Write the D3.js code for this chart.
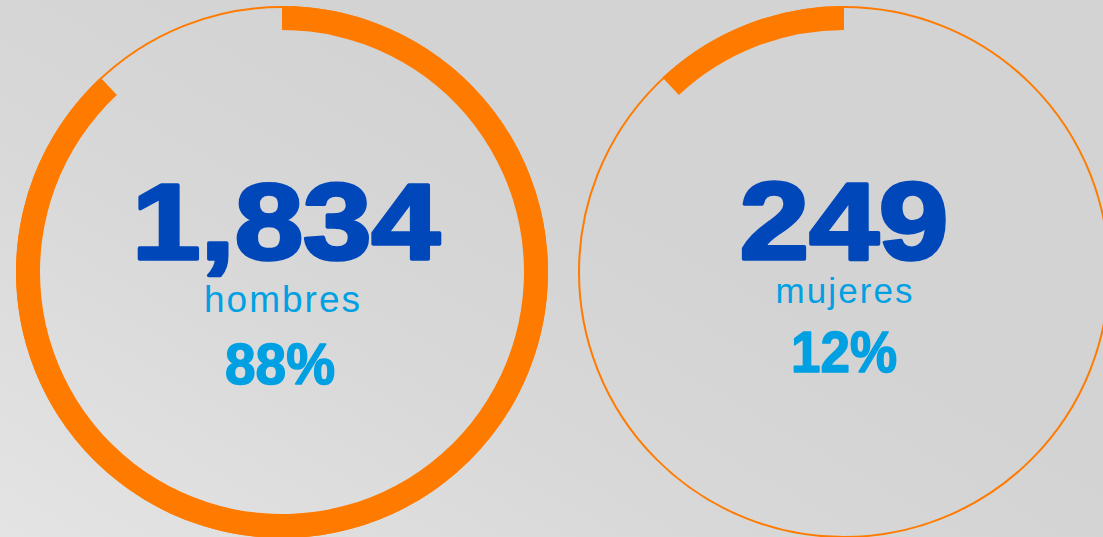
<!DOCTYPE html>
<html>
<head>
<meta charset="utf-8">
<script src="https://cdn.jsdelivr.net/npm/d3@7"></script>
<style>
  html, body { margin: 0; padding: 0; }
  body {
    width: 1103px; height: 537px; overflow: hidden;
    background: linear-gradient(30deg, #e4e4e4 0%, #d8d8d8 35%, #d3d3d3 60%, #d3d3d3 100%);
  }
</style>
</head>
<body>
<div id="chart"></div>
<script>
// data
const categories = ["hombres", "mujeres"];
const counts = [1834, 249];

const w = 1103;
const h = 537;
const outerR = 266;
const innerR = 242;
const orange = "#ff7b00";
const darkBlue = "#0047ba";
const lightBlue = "#00a0e2";

const total = d3.sum(counts);
const fmtNum = d3.format(",");
const fmtPct = d3.format(".0%");

// the two rings sit side by side
const xScale = d3.scalePoint()
    .domain(categories)
    .range([282, 844]);
const cy = 272;

const svg = d3.select("#chart")
    .append("svg")
    .attr("width", w)
    .attr("height", h);

// pie of both counts, each ring only shows its own slice
const pie = d3.pie().sort(null)(counts);

const arc = d3.arc()
    .innerRadius(innerR)
    .outerRadius(outerR);

const groups = svg.selectAll("g.ring")
    .data(categories)
    .enter()
    .append("g")
    .attr("class", "ring")
    .attr("transform", d => `translate(${xScale(d)}, ${cy})`);

groups.append("circle")
    .attr("r", outerR - 1)
    .attr("fill", "none")
    .attr("stroke", orange)
    .attr("stroke-width", 2);

groups.append("path")
    .attr("d", (d, i) => arc(pie[i]))
    .attr("fill", orange);

// numbers
const numW = [308, 209];
groups.append("text")
    .attr("x", (d, i) => i == 0 ? 4 : 0)
    .attr("y", -13)
    .attr("text-anchor", "middle")
    .attr("font-family", "Liberation Sans, Arial, sans-serif")
    .attr("font-weight", "bold")
    .attr("font-size", (d, i) => i == 0 ? 107 : 110)
    .attr("fill", darkBlue)
    .attr("stroke", darkBlue)
    .attr("stroke-width", 3.5)
    .attr("stroke-linejoin", "round")
    .attr("textLength", (d, i) => numW[i])
    .attr("lengthAdjust", "spacingAndGlyphs")
    .text((d, i) => fmtNum(counts[i]));

// labels
const labW = [156, 137];
groups.append("text")
    .attr("y", (d, i) => i == 0 ? 40 : 31)
    .attr("text-anchor", "middle")
    .attr("font-family", "Liberation Sans, Arial, sans-serif")
    .attr("font-size", (d, i) => i == 0 ? 37 : 35)
    .attr("fill", lightBlue)
    .attr("textLength", (d, i) => labW[i])
    .attr("lengthAdjust", "spacing")
    .text(d => d);

// percents
const pctW = [110, 106];
groups.append("text")
    .attr("x", (d, i) => i == 0 ? -2 : 0)
    .attr("y", (d, i) => i == 0 ? 112 : 100)
    .attr("text-anchor", "middle")
    .attr("font-family", "Liberation Sans, Arial, sans-serif")
    .attr("font-weight", "bold")
    .attr("font-size", 58)
    .attr("fill", lightBlue)
    .attr("stroke", lightBlue)
    .attr("stroke-width", 1.5)
    .attr("stroke-linejoin", "round")
    .attr("textLength", (d, i) => pctW[i])
    .attr("lengthAdjust", "spacingAndGlyphs")
    .text((d, i) => fmtPct(counts[i] / total));
</script>
</body>
</html>
